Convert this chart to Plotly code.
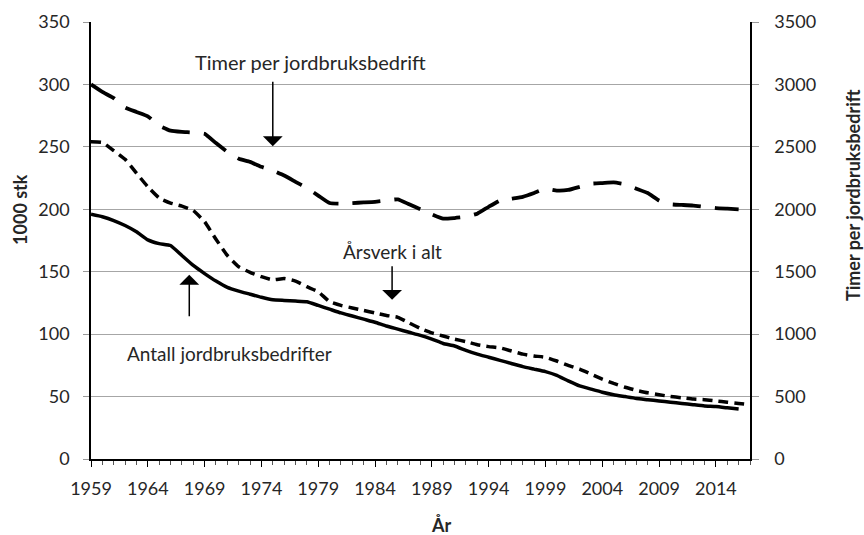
import plotly.graph_objects as go

years = list(range(1959, 2018))

antall = [196, 194, 191, 187, 182, 175.5, 172.5, 171, 163, 155,
          148.5, 142.5, 137.5, 134.5, 132, 129.5, 127.5, 127, 126.5, 126,
          123, 120, 117, 114.5, 112, 109.5, 106.5, 104, 101.5, 99,
          96, 92.5, 90.5, 87, 84, 81.5, 79, 76.5, 74, 72,
          70, 67, 62.5, 58.5, 56, 53.5, 51.5, 50, 48.5, 47.5,
          46.5, 45.5, 44.5, 43.5, 42.5, 42, 41, 40]

arsverk = [254, 253.5, 247, 240, 229, 218, 209, 205, 202.5, 199,
           190, 176, 163, 154, 149.5, 146, 143.5, 144.5, 142.5, 138,
           134, 126, 123, 121, 119, 117, 115, 113.5, 109, 104.5,
           101, 98.5, 96, 94, 91.5, 90, 89, 86.5, 84, 82.5,
           81.5, 78.5, 75, 72, 68, 64, 60.5, 57.5, 55, 53,
           51.5, 50, 49, 48, 47.5, 46.5, 45.5, 44.5, 43.5]

timer = [3000, 2940, 2890, 2815, 2780, 2745, 2670, 2630, 2620, 2615,
         2605, 2530, 2460, 2405, 2380, 2340, 2310, 2270, 2220, 2170,
         2110, 2050, 2045, 2050, 2055, 2060, 2070, 2080, 2040, 2000,
         1960, 1925, 1930, 1940, 1965, 2020, 2070, 2085, 2100, 2130,
         2165, 2150, 2155, 2180, 2205, 2210, 2215, 2200, 2165, 2130,
         2070, 2040, 2035, 2030, 2020, 2010, 2005, 2000]

FONT = "Lato, 'Open Sans', sans-serif"
TXT = "#262626"

fig = go.Figure()
fig.add_trace(go.Scatter(x=years[:len(antall)], y=antall, mode="lines",
                         line=dict(color="black", width=3.5, shape="spline", smoothing=0.4),
                         name="Antall jordbruksbedrifter", yaxis="y"))
fig.add_trace(go.Scatter(x=years[:len(arsverk)], y=arsverk, mode="lines",
                         line=dict(color="black", width=3.5, dash="10px,6px", shape="spline", smoothing=0.4),
                         name="Årsverk i alt", yaxis="y"))
fig.add_trace(go.Scatter(x=years[:len(timer)], y=timer, mode="lines",
                         line=dict(color="black", width=3.8, dash="28px,14px", shape="spline", smoothing=0.4),
                         name="Timer per jordbruksbedrift", yaxis="y2"))

titlefont = dict(family=FONT, size=18, color=TXT, weight="bold")

ann = []
ann.append(dict(x=1978.36, y=318, xref="x", yref="y", text="Timer per jordbruksbedrift",
                showarrow=False, font=dict(family=FONT, size=20, color=TXT)))
ann.append(dict(x=1985.5, y=166, xref="x", yref="y", text="Årsverk i alt",
                showarrow=False, font=dict(family=FONT, size=19, color=TXT)))
ann.append(dict(x=1971.2, y=84.5, xref="x", yref="y", text="Antall jordbruksbedrifter",
                showarrow=False, font=dict(family=FONT, size=19, color=TXT)))
# arrows
ann.append(dict(x=1975.0, y=250.5, xref="x", yref="y", text="", showarrow=True,
                ax=0, ay=-66, arrowhead=1, arrowsize=2.2, arrowwidth=1.5, arrowcolor="black"))
ann.append(dict(x=1985.5, y=127.5, xref="x", yref="y", text="", showarrow=True,
                ax=0, ay=-35, arrowhead=1, arrowsize=2.2, arrowwidth=1.5, arrowcolor="black"))
ann.append(dict(x=1967.65, y=147.5, xref="x", yref="y", text="", showarrow=True,
                ax=0, ay=43, arrowhead=1, arrowsize=2.2, arrowwidth=1.5, arrowcolor="black"))
# axis titles
ann.append(dict(x=-0.1077, y=0.57, xref="paper", yref="paper", text="1000 stk",
                textangle=-90, showarrow=False, xanchor="center", yanchor="middle",
                font=titlefont))
ann.append(dict(x=1.1563, y=0.604, xref="paper", yref="paper", text="Timer per jordbruksbedrift",
                textangle=-90, showarrow=False, xanchor="center", yanchor="middle",
                font=titlefont))
ann.append(dict(x=0.531, y=-0.152, xref="paper", yref="paper", text="År",
                showarrow=False, xanchor="center", yanchor="middle", font=titlefont))

tickfont = dict(family=FONT, size=18, color=TXT)

fig.update_layout(
    width=864, height=535,
    margin=dict(l=91, r=114, t=22, b=76),
    paper_bgcolor="white", plot_bgcolor="white",
    showlegend=False,
    annotations=ann,
    xaxis=dict(range=[1959, 2017], tick0=1959, dtick=5, tickmode="linear",
               showline=True, linecolor="black", linewidth=1.5,
               ticks="outside", ticklen=6, tickcolor="black", tickwidth=1,
               minor=dict(dtick=1, tick0=1959, ticks="outside", ticklen=4, tickcolor="#555"),
               showgrid=False, zeroline=False, tickfont=tickfont,
               ticklabelstandoff=7, automargin=False),
    xaxis2=dict(matches="x", overlaying="x", range=[1959, 2017], tick0=1959, dtick=5,
                tickmode="linear", ticks="inside", ticklen=6, tickcolor="black",
                showticklabels=False, showgrid=False, showline=False, zeroline=False,
                anchor="y", side="bottom", automargin=False),
    yaxis=dict(range=[0, 350], dtick=50, tick0=0, tickmode="linear",
               showline=True, linecolor="black", linewidth=1.5,
               ticks="outside", ticklen=6, tickcolor="#999",
               showgrid=True, gridcolor="#a6a6a6", gridwidth=1, zeroline=False,
               tickfont=tickfont, ticklabelstandoff=10, automargin=False),
    yaxis2=dict(range=[0, 3500], dtick=500, tick0=0, tickmode="linear",
                overlaying="y", side="right", anchor="x",
                showline=True, linecolor="black", linewidth=1.5,
                ticks="outside", ticklen=7, tickcolor="#999",
                showgrid=False, zeroline=False, automargin=False,
                tickfont=tickfont, ticklabelstandoff=12),
)

fig.write_html("out.html", config={"displayModeBar": False},
               post_script="document.body.style.margin='0';document.body.style.overflow='hidden';")
